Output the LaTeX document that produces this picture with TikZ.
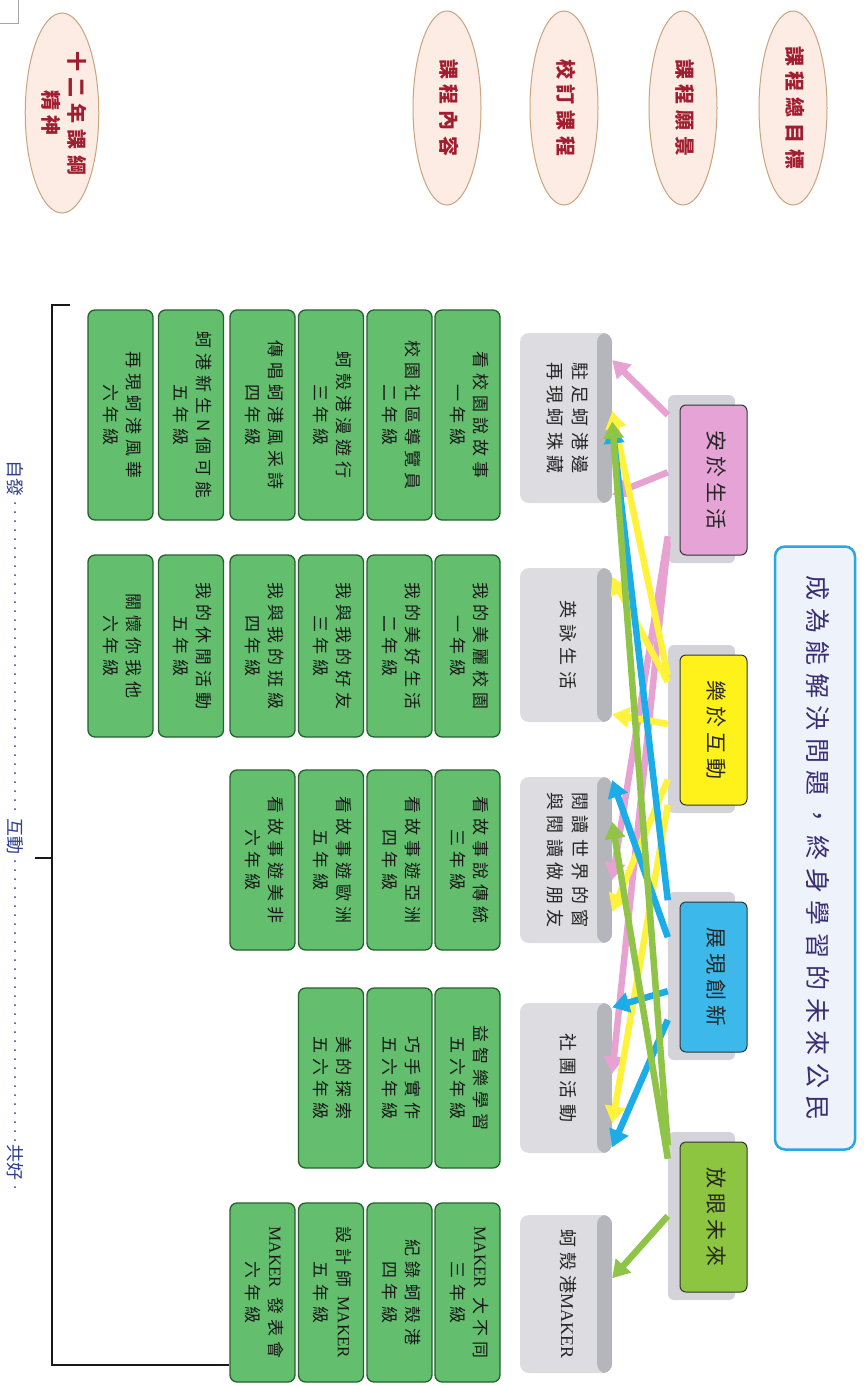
\documentclass[tikz,border=0pt]{standalone}
\usepackage{fontspec}
\usepackage{graphicx}
\setmainfont{Noto Sans CJK TC}
\newfontfamily\lat{Liberation Serif}
\usetikzlibrary{shapes.geometric,arrows.meta,calc}
\definecolor{pinkbox}{HTML}{E6A4D6}
\definecolor{pinkarr}{HTML}{E8A2D2}
\definecolor{yelbox}{HTML}{FFF21A}
\definecolor{yelarr}{HTML}{FFF23C}
\definecolor{cyabox}{HTML}{3DB8EA}
\definecolor{cyaarr}{HTML}{1CADE8}
\definecolor{grnbox}{HTML}{8DC540}
\definecolor{grnarr}{HTML}{8FC448}
\definecolor{coursef}{HTML}{63BE6E}
\definecolor{coursed}{HTML}{24622F}
\definecolor{grayf}{HTML}{DCDCE1}
\definecolor{grayd}{HTML}{B5B5BC}
\definecolor{bgc}{HTML}{D3D3D9}
\definecolor{ellf}{HTML}{FCECE4}
\definecolor{ellb}{HTML}{C9A47F}
\definecolor{ellt}{HTML}{A01E30}
\definecolor{titf}{HTML}{EEF2FA}
\definecolor{titb}{HTML}{2AA6E0}
\definecolor{titt}{HTML}{3A2D74}
\definecolor{axt}{HTML}{2E3F92}
\newcommand{\vt}[1]{\rotatebox{-90}{\begin{tabular}{@{}c@{}}#1\end{tabular}}}
\newcommand{\gfont}{\fontsize{17}{23}\selectfont\addfontfeatures{LetterSpace=30}}
\newcommand{\grfont}{\fontsize{18}{25}\selectfont\addfontfeatures{LetterSpace=30}}
\newcommand{\cfont}{\fontsize{21}{26}\selectfont\addfontfeatures{LetterSpace=25}}
\newcommand{\efont}{\fontsize{20}{26}\selectfont\bfseries\addfontfeatures{LetterSpace=30}}
\newcommand{\tfont}{\fontsize{25}{30}\selectfont\addfontfeatures{LetterSpace=30}}
\newcommand{\afont}{\fontsize{18}{22}\selectfont}
\begin{document}
\begin{tikzpicture}[x=1pt,y=-1pt,
  gbox/.style={draw=coursed, line width=1.3pt, fill=coursef, rounded corners=7pt,
    minimum width=65pt, inner sep=0pt, font=\gfont, text=black!90},
  graybox/.style={fill=grayf, rounded corners=9pt, minimum width=92pt, inner sep=0pt,
    font=\grfont, text=black!85,
    path picture={\fill[grayd] ([xshift=-15pt]path picture bounding box.north east) rectangle (path picture bounding box.south east);}},
  cbg/.style={fill=bgc, rounded corners=6pt, minimum width=67pt, minimum height=168pt, inner sep=0pt},
  cbox/.style={draw=black!80, line width=1pt, rounded corners=6pt, minimum width=67pt,
    minimum height=150pt, inner sep=0pt, font=\cfont, text=black!85},
  ell/.style={ellipse, draw=ellb, line width=1pt, fill=ellf, minimum width=68pt,
    minimum height=194pt, inner sep=0pt, text=ellt, font=\efont},
  arr/.style={line width=6.5pt, -{Triangle[width=20pt,length=17pt]}},
  axtext/.style={text=axt, font=\afont, inner sep=1pt},
  axdots/.style={axt, line width=2pt, line cap=round, dash pattern=on 0pt off 9pt}
]
\useasboundingbox (0,0) rectangle (864,1385);
\fill[white] (0,0) rectangle (864,1385);
% page corner mark
\draw[gray!70, line width=0.6pt] (0,23) -- (18,23) -- (18,0);

% ellipses
\node[ell] (e1) at (793,108) {\vt{課程總目標}};
\node[ell] (e2) at (683,108) {\vt{課程願景}};
\node[ell] (e3) at (564,108) {\vt{校訂課程}};
\node[ell] (e4) at (447,108) {\vt{課程內容}};
\node[ell, minimum height=200pt] (e5) at (62,113) {\vt{十二年課綱\\精神}};

% title
\node[draw=titb, line width=2.5pt, fill=titf, rounded corners=10pt, minimum width=80pt,
  minimum height=603pt, inner sep=0pt, text=titt, font=\tfont] (title) at (815,848)
  {\vt{成為能解決問題，終身學習的未來公民}};

% gray course boxes
\node[graybox, minimum height=170pt] (zuzu) at (566,418) {\vt{駐足蚵港邊\\再現蚵珠藏}};
\node[graybox, minimum height=154pt] (eng) at (566,645) {\vt{英詠生活}};
\node[graybox, minimum height=166pt] (read) at (566,860) {\vt{閱讀世界的窗\\與閱讀做朋友}};
\node[graybox, minimum height=150pt] (club) at (566,1078) {\vt{社團活動}};
\node[graybox, minimum height=158pt] (maker) at (566,1294) {\vt{蚵殼港{\lat MAKER}}};

% green boxes group 1
\node[gbox, minimum height=210pt] (a1) at (467.5,415) {\vt{看校園說故事\\一年級}};
\node[gbox, minimum height=210pt] (a2) at (399.5,415) {\vt{校園社區導覽員\\二年級}};
\node[gbox, minimum height=210pt] (a3) at (331,415) {\vt{蚵殼港漫遊行\\三年級}};
\node[gbox, minimum height=210pt] (a4) at (262.5,415) {\vt{傳唱蚵港風采詩\\四年級}};
\node[gbox, minimum height=210pt] (a5) at (191,415) {\vt{蚵港新生N個可能\\五年級}};
\node[gbox, minimum height=210pt] (a6) at (120.5,415) {\vt{再現蚵港風華\\六年級}};
% group 2
\node[gbox, minimum height=182pt] (b1) at (467.5,646) {\vt{我的美麗校園\\一年級}};
\node[gbox, minimum height=182pt] (b2) at (399.5,646) {\vt{我的美好生活\\二年級}};
\node[gbox, minimum height=182pt] (b3) at (331,646) {\vt{我與我的好友\\三年級}};
\node[gbox, minimum height=182pt] (b4) at (262.5,646) {\vt{我與我的班級\\四年級}};
\node[gbox, minimum height=182pt] (b5) at (191,646) {\vt{我的休閒活動\\五年級}};
\node[gbox, minimum height=182pt] (b6) at (120.5,646) {\vt{關懷你我他\\六年級}};
% group 3
\node[gbox, minimum height=180pt] (c1) at (467.5,860) {\vt{看故事說傳統\\三年級}};
\node[gbox, minimum height=180pt] (c2) at (399.5,860) {\vt{看故事遊亞洲\\四年級}};
\node[gbox, minimum height=180pt] (c3) at (331,860) {\vt{看故事遊歐洲\\五年級}};
\node[gbox, minimum height=180pt] (c4) at (262.5,860) {\vt{看故事遊美非\\六年級}};
% group 4
\node[gbox, minimum height=180pt] (d1) at (467.5,1078) {\vt{益智樂學習\\五六年級}};
\node[gbox, minimum height=180pt] (d2) at (399.5,1078) {\vt{巧手實作\\五六年級}};
\node[gbox, minimum height=180pt] (d3) at (331,1078) {\vt{美的探索\\五六年級}};
% group 5
\node[gbox, minimum height=179pt] (f1) at (467.5,1292.5) {\vt{{\lat MAKER} 大不同\\三年級}};
\node[gbox, minimum height=179pt] (f2) at (399.5,1292.5) {\vt{紀錄蚵殼港\\四年級}};
\node[gbox, minimum height=179pt] (f3) at (331,1292.5) {\vt{設計師 {\lat MAKER}\\五年級}};
\node[gbox, minimum height=179pt] (f4) at (262.5,1292.5) {\vt{{\lat MAKER} 發表會\\六年級}};

% core value boxes with grey backing
\node[cbg] (anyubg) at (701.5,479) {};
\node[cbox, fill=pinkbox] (anyu) at (713.5,480) {\vt{安於生活}};
\node[cbg] (lebg) at (701.5,729) {};
\node[cbox, fill=yelbox] (le) at (713.5,730) {\vt{樂於互動}};
\node[cbg] (zhanbg) at (701.5,976) {};
\node[cbox, fill=cyabox] (zhan) at (713.5,977) {\vt{展現創新}};
\node[cbg] (fangbg) at (701.5,1216) {};
\node[cbox, fill=grnbox] (fang) at (713.5,1217) {\vt{放眼未來}};

% arrows: pink
\draw[arr, pinkarr] ($(anyubg.north west)!0.12!(anyubg.south west)$) -- ($(zuzu.north east)!0.16!(zuzu.south east)$);
\draw[arr, pinkarr] ($(anyubg.north west)!0.46!(anyubg.south west)$) -- ($(zuzu.north east)!0.95!(zuzu.south east)$);
\draw[arr, pinkarr] ($(anyubg.north west)!0.84!(anyubg.south west)$) -- ($(read.north east)!0.62!(read.south east)$);
\draw[arr, pinkarr] ($(anyubg.north west)!0.88!(anyubg.south west)$) -- ($(club.north east)!0.47!(club.south east)$);
% yellow
\draw[arr, yelarr] ($(lebg.north west)!0.18!(lebg.south west)$) -- ($(zuzu.north east)!0.46!(zuzu.south east)$);
\draw[arr, yelarr] ($(lebg.north west)!0.22!(lebg.south west)$) -- ($(eng.north east)!0.06!(eng.south east)$);
\draw[arr, yelarr] ($(lebg.north west)!0.47!(lebg.south west)$) -- ($(eng.north east)!0.95!(eng.south east)$);
\draw[arr, yelarr] ($(lebg.north west)!0.80!(lebg.south west)$) -- ($(read.north east)!0.81!(read.south east)$);
\draw[arr, yelarr] ($(lebg.north west)!0.95!(lebg.south west)$) -- ($(club.north east)!0.80!(club.south east)$);
% cyan
\draw[arr, cyaarr] ($(zhanbg.north west)!0.05!(zhanbg.south west)$) -- ($(zuzu.north east)!0.55!(zuzu.south east)$);
\draw[arr, cyaarr] ($(zhanbg.north west)!0.27!(zhanbg.south west)$) -- ($(read.north east)!0.02!(read.south east)$);
\draw[arr, cyaarr] ($(zhanbg.north west)!0.59!(zhanbg.south west)$) -- ($(club.north east)!0.03!(club.south east)$);
\draw[arr, cyaarr] ($(zhanbg.north west)!0.76!(zhanbg.south west)$) -- ($(club.north east)!0.96!(club.south east)$);
% green
\draw[arr, grnarr] ($(fangbg.north west)!0.08!(fangbg.south west)$) -- ($(zuzu.north east)!0.52!(zuzu.south east)$);
\draw[arr, grnarr] ($(fangbg.north west)!0.16!(fangbg.south west)$) -- ($(read.north east)!0.27!(read.south east)$);
\draw[arr, grnarr] ($(fangbg.north west)!0.50!(fangbg.south west)$) -- ($(maker.north east)!0.40!(maker.south east)$);

% bracket
\draw[line width=2.6pt, black!90] (70,305) -- (52,305) -- (52,1365) -- (f4.west |- 0,1365);
\draw[line width=2.6pt, black!90] (35,858) -- (52,858);

% axis labels
\node[axtext] (zifa) at (15,478) {\rotatebox{-90}{自發}};
\node[axtext] (hudong) at (15,836) {\rotatebox{-90}{互動}};
\node[axtext] (gonghao) at (15,1162) {\rotatebox{-90}{共好}};
\coordinate (axend) at (15,1190);
\draw[axdots] ([yshift=-6pt]zifa.south) -- (hudong.north);
\draw[axdots] ([yshift=-6pt]hudong.south) -- (gonghao.north);
\draw[axdots] ([yshift=-6pt]gonghao.south) -- (axend);
\end{tikzpicture}
\end{document}
